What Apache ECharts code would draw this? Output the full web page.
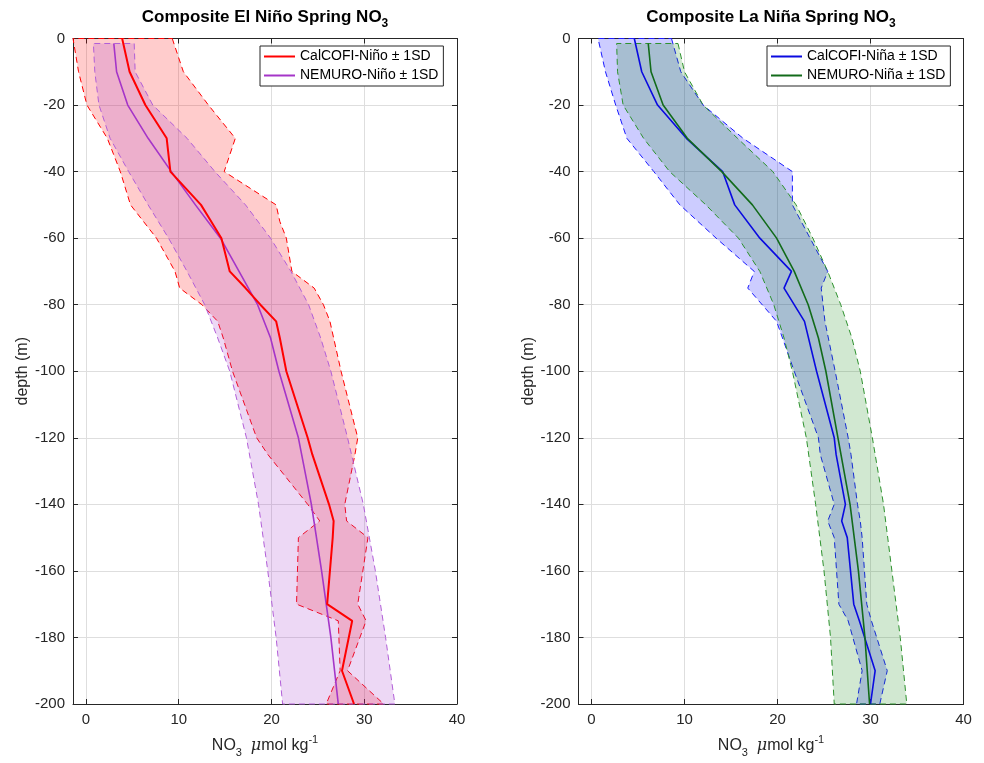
<!DOCTYPE html>
<html><head><meta charset="utf-8">
<script src="https://cdn.jsdelivr.net/npm/echarts@6/dist/echarts.min.js"></script>
<style>html,body{margin:0;padding:0;background:#fff}#c{width:984px;height:763px}</style>
</head><body><div id="c"></div><script>
// ---------------- data ----------------
const X_TICKS = [0, 10, 20, 30, 40];
const Y_MIN = -200, Y_MAX = 0, Y_STEP = 20;
const X_MIN = -1.4, X_MAX = 40;

// El Niño: CalCOFI
const calNinoDepth = [0,-10,-20,-30,-40,-50,-55,-60,-70,-75,-80,-85,-90,-100,-120,-125,-140,-145,-150,-170,-175,-190,-200];
const calNinoMean  = [3.9,4.7,6.4,8.7,9.1,12.4,13.5,14.6,15.5,17.2,18.8,20.5,20.9,21.6,23.9,24.4,26.2,26.7,26.6,26.0,28.7,27.6,28.9];
const calNinoLower = [-1.4,-0.8,0.1,2.3,3.7,4.8,6.2,7.6,9.6,10.1,12.5,14.2,14.8,15.8,18.4,19.6,23.9,25.2,22.9,22.7,27.2,27.4,25.9];
const calNinoUpper = [9.3,10.5,13.2,16.1,14.9,20.5,20.9,21.6,22.2,24.6,25.6,26.3,26.7,27.5,29.3,29.0,27.9,28.1,30.4,29.3,30.2,28.2,32.1];
// El Niño: NEMURO
const nemDepth      = [-1.5,-10,-20,-30,-40,-50,-60,-70,-80,-90,-100,-120,-140,-160,-180,-200];
const nemNinoMean   = [3.0,3.3,4.5,6.7,9.2,11.8,14.5,16.5,18.5,19.9,20.8,22.9,24.3,25.4,26.4,27.2];
const nemNinoLower  = [0.8,0.95,1.4,2.6,4.6,6.7,8.9,10.9,12.8,14.2,15.5,17.3,18.6,19.6,20.5,21.2];
const nemNinoUpper  = [5.2,5.3,7.2,10.9,13.9,17.2,19.9,22.1,24.0,25.3,26.4,28.2,29.9,31.2,32.3,33.3];
// La Niña: CalCOFI
const calNinaDepth = [0,-10,-20,-30,-40,-50,-60,-70,-75,-85,-100,-120,-125,-140,-145,-150,-170,-175,-190,-200];
const calNinaMean  = [4.6,5.4,7.1,10.2,14.1,15.4,18.1,21.5,20.7,22.9,24.2,26.1,26.3,27.3,26.9,27.5,28.2,28.8,30.5,30.0];
const calNinaLower = [0.7,1.5,2.6,3.8,6.7,9.5,13.4,17.5,16.8,19.9,21.8,24.4,24.6,26.1,25.4,26.1,26.6,27.6,29.1,28.5];
const calNinaUpper = [8.6,9.6,12.0,16.3,21.6,21.6,23.5,25.4,24.7,25.1,26.2,27.6,27.9,28.6,28.9,29.1,29.6,30.1,31.8,31.0];
// La Niña: NEMURO
const nemNinaMean  = [6.1,6.4,7.7,10.3,14.0,17.3,19.9,21.8,23.3,24.4,25.2,26.5,27.8,28.7,29.4,29.9];
const nemNinaLower = [2.7,2.8,3.4,5.6,8.4,12.3,15.8,18.1,19.6,20.7,21.6,23.1,24.1,25.0,25.7,26.1];
const nemNinaUpper = [9.3,10.0,12.0,15.7,19.5,22.0,23.8,25.4,26.8,28.0,28.9,30.2,31.4,32.3,33.2,33.9];

const legendNino = ['CalCOFI-Niño ± 1SD', 'NEMURO-Niño ± 1SD'];
const legendNina = ['CalCOFI-Niña ± 1SD', 'NEMURO-Niña ± 1SD'];
const titles = ['Composite El Niño Spring NO{sub|3}', 'Composite La Niña Spring NO{sub|3}'];

// ---------------- chart ----------------
const FONT = 'Liberation Sans, Arial, Helvetica, sans-serif';
const AX = '#262626';
const GRIDS = [{left:73, top:38.5, width:384, height:668}, {left:578.5, top:38.5, width:385, height:668}];

function pairs(vals, depth){ return depth.map((d,i)=>[vals[i], d]); }

function xAxes(gi){
  const common = {gridIndex:gi, type:'value', min:X_MIN, max:X_MAX,
    axisLine:{show:true, onZero:false, lineStyle:{color:AX, width:1}},
    axisTick:{show:true, inside:true, length:5, customValues:X_TICKS, lineStyle:{color:AX}}};
  return [
    Object.assign({}, common, {position:'bottom',
      axisLabel:{customValues:X_TICKS, color:AX, fontSize:15, fontFamily:FONT, margin:8},
      splitLine:{show:true, lineStyle:{color:'#dedede', width:1}},
      name:'NO{sub|3}  {it|μ}mol kg{sup|-1}', nameLocation:'middle', nameGap:30,
      nameTextStyle:{color:AX, fontSize:16, fontFamily:FONT, lineHeight:24,
        rich:{sub:{fontSize:11, fontFamily:FONT, color:AX, verticalAlign:'bottom', lineHeight:11},
              sup:{fontSize:11, fontFamily:FONT, color:AX, verticalAlign:'top', lineHeight:11},
              it:{fontSize:16, fontStyle:'italic', fontFamily:'DejaVu Serif, serif', color:AX}}}}),
    Object.assign({}, common, {position:'top', axisLabel:{show:false}, splitLine:{show:false}})
  ];
}
function yAxes(gi){
  const common = {gridIndex:gi, type:'value', min:Y_MIN, max:Y_MAX, interval:Y_STEP,
    axisLine:{show:true, onZero:false, lineStyle:{color:AX, width:1}},
    axisTick:{show:true, inside:true, length:5, lineStyle:{color:AX}}};
  return [
    Object.assign({}, common, {position:'left',
      axisLabel:{color:AX, fontSize:15, fontFamily:FONT, margin:8, showMinLabel:true, showMaxLabel:true},
      splitLine:{show:true, lineStyle:{color:'#dedede', width:1}},
      name:'depth (m)', nameLocation:'middle', nameGap:41, nameRotate:90,
      nameTextStyle:{color:AX, fontSize:16, fontFamily:FONT}}),
    Object.assign({}, common, {position:'right', axisLabel:{show:false}, splitLine:{show:false}})
  ];
}

function band(xi, yi, depth, lower, upper, fill, stroke, z){
  return {type:'custom', xAxisIndex:xi, yAxisIndex:yi, z:z, silent:true,
    data:[[lower[0], depth[0]]],
    renderItem:function(params, api){
      const pts = [];
      for (let i=0;i<depth.length;i++) pts.push(api.coord([upper[i], depth[i]]));
      for (let i=depth.length-1;i>=0;i--) pts.push(api.coord([lower[i], depth[i]]));
      return {type:'polygon', shape:{points:pts},
        style:{fill:fill, stroke:stroke, lineWidth:1, lineDash:[6,4]}};
    }};
}
function meanLine(name, xi, yi, depth, vals, color, w, z){
  return {type:'line', name:name, xAxisIndex:xi, yAxisIndex:yi, z:z,
    data:pairs(vals, depth), symbol:'none', showSymbol:false,
    itemStyle:{color:color}, lineStyle:{color:color, width:w}};
}

const titleRich = {sub:{fontSize:12, fontWeight:'bold', fontFamily:FONT, color:'#000', verticalAlign:'bottom', lineHeight:12}};
const legendCommon = {orient:'vertical', backgroundColor:'#fff', borderColor:AX, borderWidth:1,
  borderRadius:0, padding:[2,5,2,4], itemGap:2, itemWidth:31, itemHeight:2, icon:'rect',
  textStyle:{fontSize:14, lineHeight:17, color:'#000', fontFamily:FONT}};

const option = {
  animation:false,
  backgroundColor:'#fff',
  title:[
    {text:titles[0], left:265, top:4, textAlign:'center', padding:0,
     textStyle:{fontSize:17, fontWeight:'bold', color:'#000', fontFamily:FONT, lineHeight:26, rich:titleRich}},
    {text:titles[1], left:771, top:4, textAlign:'center', padding:0,
     textStyle:{fontSize:17, fontWeight:'bold', color:'#000', fontFamily:FONT, lineHeight:26, rich:titleRich}}
  ],
  legend:[
    Object.assign({data:legendNino, left:260, top:46}, legendCommon),
    Object.assign({data:legendNina, left:767, top:46}, legendCommon)
  ],
  grid:GRIDS,
  xAxis:[].concat(xAxes(0), xAxes(1)),
  yAxis:[].concat(yAxes(0), yAxes(1)),
  series:[
    band(0,0, calNinoDepth, calNinoLower, calNinoUpper, 'rgba(255,0,0,0.2)', '#ff0000', 1),
    band(0,0, nemDepth, nemNinoLower, nemNinoUpper, 'rgba(165,60,205,0.2)', '#b25fd8', 2),
    meanLine(legendNino[0], 0,0, calNinoDepth, calNinoMean, '#ff0000', 2, 4),
    meanLine(legendNino[1], 0,0, nemDepth, nemNinoMean, '#a535c8', 1.6, 3),
    band(2,2, calNinaDepth, calNinaLower, calNinaUpper, 'rgba(0,0,255,0.2)', '#1a1aff', 1),
    band(2,2, nemDepth, nemNinaLower, nemNinaUpper, 'rgba(0,128,0,0.18)', '#2e922e', 2),
    meanLine(legendNina[0], 2,2, calNinaDepth, calNinaMean, '#0a0ae0', 1.6, 3),
    meanLine(legendNina[1], 2,2, nemDepth, nemNinaMean, '#126b1a', 1.6, 4)
  ]
};
const chart = echarts.init(document.getElementById('c'), null, {renderer:'canvas'});
chart.setOption(option);
</script></body></html>
